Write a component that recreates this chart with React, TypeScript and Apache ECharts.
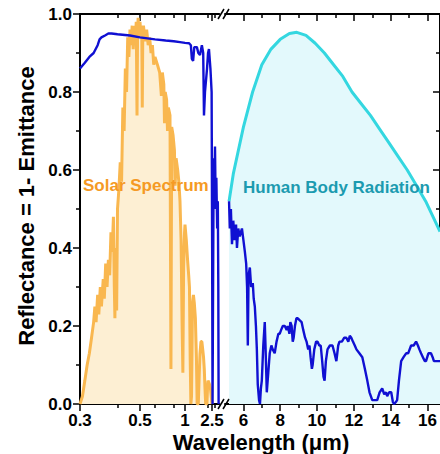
import React, { useEffect, useRef } from "react";
import * as echarts from "echarts";

// ---------- Data (wavelength in µm, value 0..1) ----------
const solarWl = [
  0.3, 0.305, 0.31, 0.315, 0.32, 0.325, 0.33, 0.333, 0.336, 0.34, 0.343, 0.347, 0.35, 0.355, 0.358,
  0.362, 0.366, 0.37, 0.374, 0.378, 0.382, 0.386, 0.389, 0.391, 0.393, 0.395, 0.397, 0.4, 0.405, 0.41,
  0.415, 0.42, 0.425, 0.43, 0.435, 0.44, 0.445, 0.45, 0.455, 0.46, 0.465, 0.47, 0.475, 0.48, 0.484,
  0.487, 0.49, 0.495, 0.5, 0.505, 0.51, 0.513, 0.516, 0.52, 0.53, 0.54, 0.55, 0.56, 0.57, 0.58, 0.59,
  0.6, 0.62, 0.64, 0.656, 0.665, 0.68, 0.687, 0.695, 0.71, 0.72, 0.73, 0.75, 0.762, 0.772, 0.79, 0.81,
  0.82, 0.835, 0.86, 0.88, 0.9, 0.92, 0.94, 0.955, 0.97, 0.99, 1.0, 1.03, 1.06, 1.09, 1.11, 1.13, 1.15,
  1.17, 1.2, 1.23, 1.26, 1.3, 1.34, 1.37, 1.42, 1.46, 1.5, 1.55, 1.6, 1.65, 1.7, 1.75, 1.8, 1.85, 1.95,
  2.0, 2.05, 2.1, 2.2, 2.3, 2.4, 2.5,
];
const solarVal = [
  0.0, 0.02, 0.06, 0.1, 0.13, 0.17, 0.21, 0.25, 0.21, 0.28, 0.23, 0.3, 0.25, 0.32, 0.27,
  0.36, 0.3, 0.37, 0.33, 0.44, 0.39, 0.48, 0.3, 0.22, 0.4, 0.35, 0.24, 0.5, 0.55, 0.62,
  0.57, 0.76, 0.7, 0.86, 0.8, 0.94, 0.89, 0.96, 0.92, 0.97, 0.91, 0.97, 0.93, 0.98, 0.74,
  0.96, 0.99, 0.94, 0.98, 0.95, 0.97, 0.76, 0.95, 0.97, 0.93, 0.96, 0.92, 0.94, 0.9, 0.92, 0.87,
  0.89, 0.87, 0.85, 0.79, 0.85, 0.82, 0.72, 0.8, 0.78, 0.7, 0.76, 0.74, 0.09, 0.71, 0.69, 0.65,
  0.56, 0.63, 0.6, 0.57, 0.52, 0.42, 0.2, 0.08, 0.35, 0.44, 0.46, 0.42, 0.37, 0.33, 0.3, 0.12, 0.0,
  0.02, 0.26, 0.28, 0.26, 0.22, 0.12, 0.0, 0.0, 0.07, 0.13, 0.16, 0.16, 0.14, 0.12, 0.09, 0.04, 0.0, 0.0,
  0.04, 0.06, 0.06, 0.05, 0.04, 0.02, 0.0,
];

const reflLeftWl = [
  0.3, 0.31, 0.32, 0.33, 0.34, 0.345, 0.35, 0.36, 0.37, 0.38, 0.4, 0.45, 0.5, 0.6, 0.7, 0.8, 0.9, 1.0,
  1.1, 1.15, 1.18, 1.22, 1.26, 1.36, 1.42, 1.5, 1.6, 1.68, 1.73, 1.8, 1.96, 2.05, 2.14, 2.3, 2.45, 2.52,
  2.58, 2.66, 2.72, 2.8, 2.9, 3.0, 3.15, 3.3, 3.5, 3.7, 3.85, 3.95, 4.1,
];
const reflLeftVal = [
  0.86, 0.875, 0.89, 0.9, 0.92, 0.935, 0.94, 0.945, 0.95, 0.95, 0.948, 0.945, 0.94, 0.935, 0.932, 0.93,
  0.928, 0.926, 0.925, 0.92, 0.885, 0.88, 0.915, 0.915, 0.9, 0.895, 0.92, 0.9, 0.74, 0.8, 0.86, 0.9, 0.91,
  0.86, 0.8, 0.4, 0.0, 0.0, 0.5, 0.63, 0.55, 0.66, 0.5, 0.58, 0.45, 0.52, 0.3, 0.0, 0.0,
];

const reflRightWl = [
  5.22, 5.26, 5.32, 5.38, 5.45, 5.52, 5.6, 5.65, 5.72, 5.8, 5.92, 6.0, 6.08, 6.15, 6.2, 6.24, 6.28, 6.35,
  6.42, 6.51, 6.56, 6.62, 6.68, 6.73, 6.78, 6.85, 6.9, 6.95, 7.0, 7.08, 7.16, 7.2, 7.27, 7.35, 7.43, 7.52,
  7.59, 7.7, 7.8, 7.9, 7.97, 8.05, 8.14, 8.25, 8.35, 8.41, 8.5, 8.55, 8.62, 8.68, 8.73, 8.8, 8.88, 8.95,
  9.05, 9.16, 9.25, 9.35, 9.43, 9.52, 9.59, 9.65, 9.72, 9.76, 9.85, 9.95, 10.03, 10.12, 10.2, 10.28, 10.35,
  10.41, 10.48, 10.57, 10.7, 10.84, 10.95, 11.05, 11.15, 11.22, 11.35, 11.48, 11.59, 11.7, 11.78, 11.86,
  11.95, 12.05, 12.14, 12.3, 12.46, 12.6, 12.73, 12.85, 13.0, 13.15, 13.27, 13.4, 13.54, 13.65, 13.75,
  13.81, 13.92, 14.03, 14.12, 14.19, 14.28, 14.35, 14.45, 14.57, 14.7, 14.84, 14.95, 15.11, 15.25, 15.38,
  15.48, 15.56, 15.65, 15.75, 15.85, 15.92, 16.05, 16.19, 16.28, 16.35, 16.5, 16.68,
];
const reflRightVal = [
  0.52, 0.45, 0.5, 0.41, 0.47, 0.42, 0.46, 0.4, 0.45, 0.43, 0.45, 0.42, 0.39, 0.36, 0.3, 0.15, 0.33, 0.35,
  0.3, 0.31, 0.27, 0.25, 0.2, 0.14, 0.05, 0.01, 0.0, 0.04, 0.06, 0.15, 0.21, 0.15, 0.03, 0.08, 0.13, 0.15,
  0.14, 0.13, 0.16, 0.18, 0.18, 0.19, 0.2, 0.2, 0.19, 0.2, 0.18, 0.21, 0.2, 0.16, 0.17, 0.2, 0.22, 0.22,
  0.215, 0.21, 0.19, 0.17, 0.16, 0.14, 0.15, 0.12, 0.09, 0.1, 0.14, 0.16, 0.16, 0.15, 0.15, 0.11, 0.07,
  0.06, 0.11, 0.14, 0.15, 0.15, 0.13, 0.11, 0.15, 0.16, 0.16, 0.17, 0.17, 0.16, 0.175, 0.17,
  0.16, 0.15, 0.14, 0.13, 0.12, 0.09, 0.06, 0.03, 0.01, 0.01, 0.01, 0.03, 0.04, 0.025, 0.03,
  0.02, 0.03, 0.03, 0.005, 0.0, 0.005, 0.01, 0.06, 0.11, 0.12, 0.13, 0.13, 0.15, 0.15, 0.16,
  0.15, 0.14, 0.13, 0.12, 0.11, 0.11, 0.13, 0.13, 0.12, 0.11, 0.11, 0.11,
];

const bodyWl = [
  5.22, 5.45, 6.0, 6.5, 7.0, 7.5, 8.0, 8.5, 8.9, 9.4, 9.9, 10.4, 10.9, 11.4, 11.9, 12.4, 12.9, 13.4,
  13.9, 14.4, 14.9, 15.4, 15.9, 16.4, 16.68,
];
const bodyVal = [
  0.52, 0.59, 0.71, 0.8, 0.87, 0.91, 0.935, 0.95, 0.953, 0.945, 0.925, 0.9, 0.87, 0.84, 0.8, 0.77, 0.74,
  0.705, 0.67, 0.635, 0.6, 0.56, 0.52, 0.47, 0.442,
];

const leftMajorTicks = [0.3, 0.5, 1, 2.5];
const leftMinorTicks = [0.4, 0.6, 0.8, 2, 3];
const rightMajorTicks = [6, 8, 10, 12, 14, 16];
const rightMinorTicks = [7, 9, 11, 13, 15];
const leftRange = [0.3, 4.17];
const rightRange = [5, 16.68];

const FONT = '"Liberation Sans", Arial, sans-serif';

export default function App() {
  const ref = useRef<HTMLDivElement>(null);
  useEffect(() => {
    document.body.style.margin = "0";
    const chart = echarts.init(ref.current!, null, { renderer: "svg" });
    const black = "#000";
    const axisLine = { show: true, lineStyle: { color: black, width: 2 } };
    const noLine = { show: false };
    const tickStyle = { color: black, width: 1.5 };
    const labelStyle = {
      fontSize: 17,
      fontWeight: "bold" as const,
      color: black,
      fontFamily: FONT,
    };
    const inv = (w: number) => 1 / w;

    const leftX = (position: string, major: boolean, showLine: boolean) => ({
      gridIndex: 0,
      type: "value",
      position,
      inverse: true,
      min: 1 / leftRange[1],
      max: 1 / leftRange[0],
      axisLine: showLine ? axisLine : noLine,
      axisTick: {
        show: true,
        inside: position === "top",
        length: major ? 7 : 4,
        lineStyle: tickStyle,
        customValues: (major ? leftMajorTicks : leftMinorTicks).map(inv),
      },
      axisLabel:
        major && position === "bottom"
          ? {
              ...labelStyle,
              margin: 8,
              customValues: leftMajorTicks.map(inv),
              formatter: (v: number) => String(Math.round((1 / v) * 10) / 10),
            }
          : { show: false },
      splitLine: { show: false },
    });
    const rightX = (position: string, major: boolean, showLine: boolean) => ({
      gridIndex: 1,
      type: "value",
      position,
      min: rightRange[0],
      max: rightRange[1],
      axisLine: showLine ? axisLine : noLine,
      axisTick: {
        show: true,
        inside: position === "top",
        length: major ? 7 : 4,
        lineStyle: tickStyle,
        customValues: major ? rightMajorTicks : rightMinorTicks,
      },
      axisLabel:
        major && position === "bottom"
          ? { ...labelStyle, margin: 8, customValues: rightMajorTicks }
          : { show: false },
      splitLine: { show: false },
    });

    const yBase = (gridIndex: number, position: string, labels: boolean) => ({
      gridIndex,
      type: "value",
      position,
      min: 0,
      max: 1,
      interval: 0.2,
      axisLine,
      axisTick: { show: true, inside: !labels, length: 7, lineStyle: tickStyle },
      minorTick: { show: true, splitNumber: 2, length: 4, lineStyle: tickStyle },
      axisLabel: labels
        ? { ...labelStyle, margin: 8, formatter: (v: number) => v.toFixed(1) }
        : { show: false },
      splitLine: { show: false },
      minorSplitLine: { show: false },
    });

    const slash = (x: number, y: number) => ({
      type: "line",
      shape: { x1: x - 3, y1: y + 5, x2: x + 3, y2: y - 5 },
      style: { stroke: black, lineWidth: 1.5 },
      z: 100,
    });

    const option = {
      animation: false,
      backgroundColor: "#fff",
      grid: [
        { left: 80, top: 14, width: 139.2, height: 390 },
        { left: 225, top: 14, width: 216, height: 390 },
      ],
      xAxis: [
        leftX("bottom", true, true),
        leftX("bottom", false, false),
        leftX("top", true, true),
        leftX("top", false, false),
        rightX("bottom", true, true),
        rightX("bottom", false, false),
        rightX("top", true, true),
        rightX("top", false, false),
      ],
      yAxis: [yBase(0, "left", true), yBase(1, "right", false)],
      series: [
        {
          type: "line",
          xAxisIndex: 0,
          yAxisIndex: 0,
          data: solarWl.map((w, i) => [1 / w, solarVal[i]]),
          showSymbol: false,
          lineStyle: { color: "#f9b74f", width: 3 },
          areaStyle: { color: "#fdefd3", opacity: 1 },
          z: 2,
        },
        {
          type: "line",
          xAxisIndex: 0,
          yAxisIndex: 0,
          data: reflLeftWl.map((w, i) => [1 / w, reflLeftVal[i]]),
          showSymbol: false,
          lineStyle: { color: "#1010d2", width: 2.4 },
          z: 4,
        },
        {
          type: "line",
          xAxisIndex: 4,
          yAxisIndex: 1,
          data: bodyWl.map((w, i) => [w, bodyVal[i]]),
          showSymbol: false,
          lineStyle: { color: "#34d7e0", width: 3 },
          areaStyle: { color: "#e3f9fc", opacity: 1 },
          z: 2,
        },
        {
          type: "line",
          xAxisIndex: 4,
          yAxisIndex: 1,
          data: reflRightWl.map((w, i) => [w, reflRightVal[i]]),
          showSymbol: false,
          lineStyle: { color: "#1010d2", width: 2.4 },
          z: 4,
        },
      ],
      graphic: [
        slash(221, 404),
        slash(226, 404),
        slash(221, 14),
        slash(226, 14),
        {
          type: "text",
          x: 83,
          y: 185,
          z: 50,
          style: {
            text: "Solar Spectrum",
            fill: "#f59a24",
            font: `bold 17px ${FONT}`,
            align: "left",
            verticalAlign: "middle",
          },
        },
        {
          type: "text",
          x: 243,
          y: 187,
          z: 50,
          style: {
            text: "Human Body Radiation",
            fill: "#1c9bb0",
            font: `bold 17px ${FONT}`,
            align: "left",
            verticalAlign: "middle",
          },
        },
        {
          type: "text",
          x: 26,
          y: 206,
          rotation: Math.PI / 2,
          z: 50,
          style: {
            text: "Reflectance = 1- Emittance",
            fill: black,
            font: `bold 22px ${FONT}`,
            align: "center",
            verticalAlign: "middle",
          },
        },
        {
          type: "text",
          x: 261,
          y: 442,
          z: 50,
          style: {
            text: "Wavelength (μm)",
            fill: black,
            font: `bold 22px ${FONT}`,
            align: "center",
            verticalAlign: "middle",
          },
        },
      ],
    };
    chart.setOption(option as any);
    return () => chart.dispose();
  }, []);
  return <div ref={ref} style={{ width: 440, height: 454 }} />;
}
